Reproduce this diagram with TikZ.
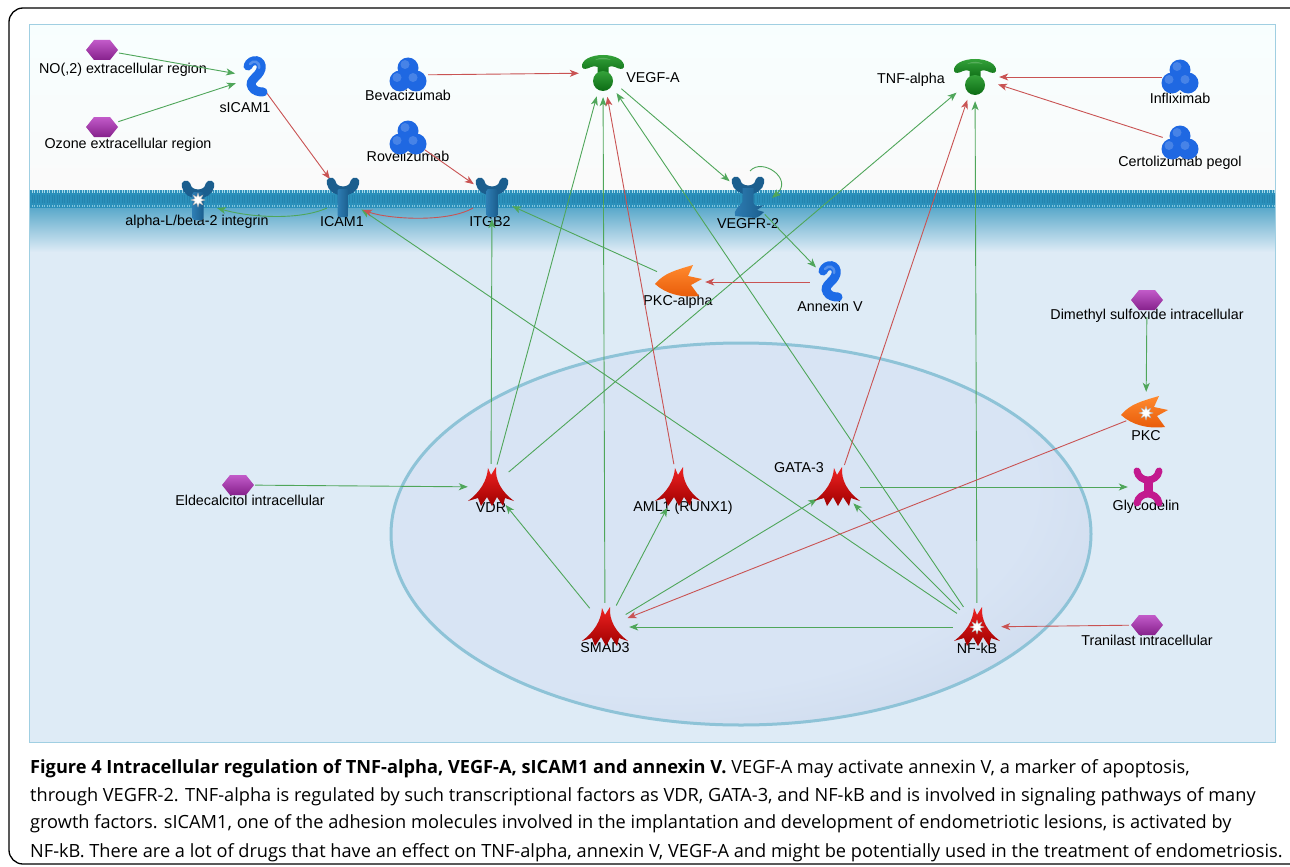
\documentclass[tikz,border=0pt]{standalone}
\usepackage{fontspec}
\setmainfont{Liberation Sans}
\newfontfamily\capfont{Open Sans}
\usetikzlibrary{arrows.meta}
\definecolor{actg}{HTML}{4FA65A}
\definecolor{inhr}{HTML}{C95353}
\definecolor{hexa1}{HTML}{C25BC9}
\definecolor{hexa2}{HTML}{86218C}
\definecolor{drugblue}{HTML}{1F68E2}
\definecolor{squigblue}{HTML}{1D6BE6}
\definecolor{recblue}{HTML}{1B5E8E}
\definecolor{reclight}{HTML}{2E7DB3}
\definecolor{ligl}{HTML}{34A23A}
\definecolor{ligd}{HTML}{0C6B14}
\definecolor{tfl}{HTML}{EE2222}
\definecolor{tfd}{HTML}{A00000}
\definecolor{kinl}{HTML}{FF8A2E}
\definecolor{kind}{HTML}{E85A08}
\definecolor{glyc}{HTML}{C2198E}
\definecolor{memb}{HTML}{2B90BB}
\definecolor{membdot}{HTML}{A6DAEA}
\definecolor{membstripe}{HTML}{2584AE}
\definecolor{panelline}{HTML}{A0CFE2}
\definecolor{cellin}{HTML}{DEEBF6}
\definecolor{nucin}{HTML}{D8E4F4}
\definecolor{nucmid}{HTML}{C5D2E7}
\definecolor{nucout}{HTML}{A8B7CE}
\definecolor{nucrim}{HTML}{8EC3D7}
\pgfdeclareradialshading{nucleus}{\pgfpoint{-10bp}{10bp}}{color(0bp)=(nucin); color(27bp)=(nucin); color(43bp)=(nucmid); color(53bp)=(nucout); color(70bp)=(nucout)}
\tikzset{
  ent/.style={circle, minimum size=#1, inner sep=0pt, draw=none},
  lab/.style={font=\fontsize{14.3}{16}\selectfont, inner sep=0pt},
  act/.style={draw=actg, line width=0.9pt, -{Stealth[length=9pt,width=7pt,inset=2.5pt]}},
  inh/.style={draw=inhr, line width=0.9pt, -{Stealth[length=9pt,width=7pt,inset=2.5pt]}},
  capline/.style={anchor=base west, inner sep=0pt, font=\capfont\fontsize{18.2}{21}\selectfont},
  whitestar/.pic={\draw[fill=white, draw=gray!60, line width=0.4pt] (0:7)
      \foreach \a in {0,45,...,315}{ -- (\a:7) -- ({\a+22.5}:3.2)} -- cycle;},
  hexa/.pic={\shade[top color=hexa1, bottom color=hexa2] (-16,0) -- (-8,-10) -- (8,-10) -- (16,0) -- (8,10) -- (-8,10) -- cycle;},
  drug/.pic={\foreach \p in {(-8,6),(8,6),(0,-7)}{
      \fill[drugblue] \p circle[radius=10.5];}
      \foreach \p in {(-8,6),(8,6),(0,-7)}{
      \fill[white, opacity=0.18] \p ++(-3,-3.5) circle[radius=4.5];}},
  squig/.pic={\draw[line width=9pt, line cap=round, squigblue] (-7,-11) .. controls (-4,-19) and (8,-18) .. (6,-8) .. controls (4,0) and (-7,3) .. (-3,10) .. controls (-1,14) and (4,15) .. (8,15);
      \draw[line width=2.5pt, line cap=round, white, opacity=0.25] (-5,-13) .. controls (-2,-17) and (5,-16) .. (4,-9);},
  recy/.pic={\draw[line width=9pt, line cap=round, recblue] (-12,-15) .. controls (-10,-3) and (10,-3) .. (12,-15);
      \shade[left color=reclight, right color=recblue, rounded corners=2pt] (-5.5,-8) rectangle (5.5,20);},
  vegfr/.pic={\draw[line width=9pt, line cap=round, recblue] (-12,-16) .. controls (-10,-4) and (10,-4) .. (12,-16);
      \shade[left color=reclight, right color=recblue] (-5.5,-9) -- (-5.5,5) .. controls (-8,9) and (-15,13) .. (-13,19) -- (7,21) .. controls (11,20) and (13,18) .. (16,15) -- (9,13) -- (16,8) .. controls (10,10) and (7,10) .. (5.5,6) -- (5.5,-9) -- cycle;},
  ligand/.pic={\shade[top color=ligl, bottom color=ligd] (-21,-6) .. controls (-22,-13) and (-12,-18) .. (0,-18) .. controls (12,-18) and (22,-13) .. (21,-6) .. controls (20,-3) and (16,-4) .. (12,-6) .. controls (8,-7) .. (5.5,-6) -- (5.5,2) -- (-5.5,2) -- (-5.5,-6) .. controls (-8,-7) .. (-12,-6) .. controls (-16,-4) and (-20,-3) .. cycle;
      \shade[top color=ligl, bottom color=ligd] (0,8) circle[radius=10];
      \fill[white, opacity=0.2] (-8,-13) .. controls (-3,-16) and (3,-16) .. (8,-13) .. controls (3,-14) and (-3,-14) .. cycle;},
  tf/.pic={\shade[top color=tfl, bottom color=tfd] (-3,-19) -- (0,-12) -- (5,-20) .. controls (4,-6) and (11,5) .. (23,14) -- (14,11) -- (12,19) -- (6,10) -- (1,19) -- (-4,10) -- (-10,19) -- (-13,11) -- (-23,14) .. controls (-11,5) and (-4,-6) .. cycle;},
  kinase/.pic={\shade[top color=kinl, bottom color=kind] (-25,2) .. controls (-16,-9) and (-4,-12) .. (13,-17) -- (8,-6) -- (22,-3) -- (11,3) -- (19,14) .. controls (2,16) and (-14,12) .. cycle;},
  glyco/.pic={\draw[line width=7pt, line cap=round, glyc] (-11,-16) .. controls (-9,-4) and (9,-4) .. (11,-16);
      \draw[line width=7pt, line cap=round, glyc] (-11,16) .. controls (-9,4) and (9,4) .. (11,16);
      \fill[glyc] (-4.5,-8) rectangle (4.5,8);}
}
\begin{document}
\begin{tikzpicture}[x=1pt,y=-1pt]
\useasboundingbox (0,0) rectangle (1290,867);
% frame
\fill[white] (0,0) rectangle (1290,867);
\draw[black, line width=1.3pt, rounded corners=14pt] (9,8) rectangle (1320,864);
% panel background
\begin{scope}
\clip (29,25) rectangle (1275,742);
\shade[top color=black!8!cyan!3!white, bottom color=white!96!gray] (29,25) rectangle (1275,190);
\fill[cellin] (29,250) rectangle (1275,742);
\shade[top color=memb!80!white, bottom color=cellin] (29,206) rectangle (1275,252);
\fill[memb] (29,190) rectangle (1275,208);
\draw[membstripe, line width=8pt, dash pattern=on 0.9pt off 1.6pt] (29,199) -- (1275,199);
\draw[membdot, line width=2.2pt, dash pattern=on 1.3pt off 1.2pt] (29,191.5) -- (1275,191.5);
\draw[membdot!70!memb, line width=1.6pt, dash pattern=on 1.3pt off 1.2pt] (29,206) -- (1275,206);
% nucleus
\path[shading=nucleus] (741,534) ellipse[x radius=350, y radius=191];
\draw[nucrim, line width=3pt] (741,534) ellipse[x radius=350, y radius=191];
\end{scope}
\draw[panelline, line width=1pt] (29,25) rectangle (1275,742);

% entity anchors
\node[ent=34] (no) at (102,50) {};
\node[ent=34] (ozone) at (102,127) {};
\node[ent=40] (sicam1) at (255,77) {};
\node[ent=40] (bev) at (408,75) {};
\node[ent=40] (rov) at (408,138) {};
\node[ent=48] (vegfa) at (603,73) {};
\node[ent=48] (tnf) at (975,77) {};
\node[ent=36] (infl) at (1180,77) {};
\node[ent=36] (certo) at (1180,143) {};
\node[ent=40] (integrin) at (198,200) {};
\node[ent=44] (icam1) at (343,197) {};
\node[ent=44] (itgb2) at (492,197) {};
\node[ent=48] (vegfr2) at (748,197) {};
\node[ent=50] (pkca) at (680,282) {};
\node[ent=40] (annexin) at (830,282) {};
\node[ent=34] (dmso) at (1147,300) {};
\node[ent=42] (pkc) at (1146,413) {};
\node[ent=40] (glyco) at (1148,487) {};
\node[ent=46] (vdr) at (491,487) {};
\node[ent=46] (aml1) at (678,487) {};
\node[ent=46] (gata3) at (837,487) {};
\node[ent=34] (eld) at (238,485) {};
\node[ent=48] (smad3) at (605,627) {};
\node[ent=48] (nfkb) at (977,627) {};
\node[ent=36] (tranilast) at (1147,625) {};

% labels
\node[lab] (no-l) at (123,70) {NO(,2) extracellular region};
\node[lab] (ozone-l) at (128,145) {Ozone extracellular region};
\node[lab] (sicam1-l) at (245,108) {sICAM1};
\node[lab] (bev-l) at (408,95) {Bevacizumab};
\node[lab] (rov-l) at (408,156) {Rovelizumab};
\node[lab] (vegfa-l) at (653,78) {VEGF-A};
\node[lab] (tnf-l) at (911,80) {TNF-alpha};
\node[lab] (infl-l) at (1180,98) {Infliximab};
\node[lab] (certo-l) at (1180,163) {Certolizumab pegol};
\node[lab] (integrin-l) at (197,222) {alpha-L/beta-2 integrin};
\node[lab] (icam1-l) at (342,222) {ICAM1};
\node[lab] (itgb2-l) at (490,222) {ITGB2};
\node[lab] (vegfr2-l) at (748,224) {VEGFR-2};
\node[lab] (pkca-l) at (678,302) {PKC-alpha};
\node[lab] (annexin-l) at (830,306) {Annexin V};
\node[lab] (dmso-l) at (1147,316) {Dimethyl sulfoxide intracellular};
\node[lab] (pkc-l) at (1146,436) {PKC};
\node[lab] (glyco-l) at (1146,507) {Glycodelin};
\node[lab] (vdr-l) at (491,508) {VDR};
\node[lab] (aml1-l) at (683,508) {AML1 (RUNX1)};
\node[lab] (gata3-l) at (799,468) {GATA-3};
\node[lab] (eld-l) at (250,500) {Eldecalcitol intracellular};
\node[lab] (smad3-l) at (605,648) {SMAD3};
\node[lab] (nfkb-l) at (977,648) {NF-kB};
\node[lab] (tranilast-l) at (1147,640) {Tranilast intracellular};

% activation connectors
\draw[act] (no) -- (sicam1);
\draw[act] (ozone) -- (sicam1);
\draw[act] ([shift={(-16,11)}]icam1.center) .. controls ([shift={(-45,24)}]icam1.center) and ([shift={(50,17)}]integrin.center) .. ([shift={(19,8)}]integrin.center);
\draw[act] (vegfa) -- (vegfr2);
\draw[act] ([shift={(2,-26)}]vegfr2.center) .. controls ([shift={(14,-40)}]vegfr2.center) and ([shift={(46,-18)}]vegfr2.center) .. ([shift={(24,1)}]vegfr2.center);
\draw[act] (vegfr2) -- (annexin);
\draw[act] (pkca) -- (itgb2);
\draw[act] (vdr) -- (itgb2);
\draw[act] (vdr) -- (vegfa);
\draw[act] (smad3) -- (vegfa);
\draw[act] (vdr) -- (tnf);
\draw[act] (nfkb) -- (vegfa);
\draw[act] (nfkb) -- (icam1);
\draw[act] (nfkb) -- (tnf);
\draw[act] (nfkb) -- (gata3);
\draw[act] (nfkb) -- (smad3);
\draw[act] (smad3) -- (vdr);
\draw[act] (smad3) -- (aml1);
\draw[act] (smad3) -- (gata3);
\draw[act] (gata3) -- (glyco);
\draw[act] (eld) -- (vdr);
\draw[act] (dmso) -- (pkc);
% inhibition connectors
\draw[inh] (bev) -- (vegfa);
\draw[inh] (rov) -- (itgb2);
\draw[inh] (sicam1) -- (icam1);
\draw[inh] ([shift={(-19,11)}]itgb2.center) .. controls ([shift={(-45,26)}]itgb2.center) and ([shift={(45,22)}]icam1.center) .. ([shift={(20,13)}]icam1.center);
\draw[inh] (infl) -- (tnf);
\draw[inh] (certo) -- (tnf);
\draw[inh] (annexin) -- (pkca);
\draw[inh] (aml1) -- (vegfa);
\draw[inh] (gata3) -- (tnf);
\draw[inh] (pkc) -- (smad3);
\draw[inh] (tranilast) -- (nfkb);

% glyphs
\pic at (no) {hexa};
\pic at (ozone) {hexa};
\pic at (dmso) {hexa};
\pic at (eld) {hexa};
\pic at (tranilast) {hexa};
\pic at (bev) {drug};
\pic at (rov) {drug};
\pic at (infl) {drug};
\pic at (certo) {drug};
\pic at (sicam1) {squig};
\pic at (annexin) {squig};
\pic at (integrin) {recy};
\pic at (integrin) {whitestar};
\pic at (icam1) {recy};
\pic at (itgb2) {recy};
\pic at (vegfr2) {vegfr};
\pic at (vegfa) {ligand};
\pic at (tnf) {ligand};
\pic at (vdr) {tf};
\pic at (aml1) {tf};
\pic at (gata3) {tf};
\pic at (smad3) {tf};
\pic at (nfkb) {tf};
\pic at (nfkb) {whitestar};
\pic at (pkca) {kinase};
\pic at (pkc) {kinase};
\pic at (pkc) {whitestar};
\pic at (glyco) {glyco};

% caption
\node[capline] (cap1) at (30,773)
  {\textbf{Figure 4 Intracellular regulation of TNF-alpha, VEGF-A, sICAM1 and annexin V.} VEGF-A may activate annexin V, a marker of apoptosis,};
\node[capline] (cap2) at (30,801)
  {through VEGFR-2. TNF-alpha is regulated by such transcriptional factors as VDR, GATA-3, and NF-kB and is involved in signaling pathways of many};
\node[capline] (cap3) at (30,828)
  {growth factors. sICAM1, one of the adhesion molecules involved in the implantation and development of endometriotic lesions, is activated by};
\node[capline] (cap4) at (30,857)
  {NF-kB. There are a lot of drugs that have an effect on TNF-alpha, annexin V, VEGF-A and might be potentially used in the treatment of endometriosis.};
\end{tikzpicture}
\end{document}
